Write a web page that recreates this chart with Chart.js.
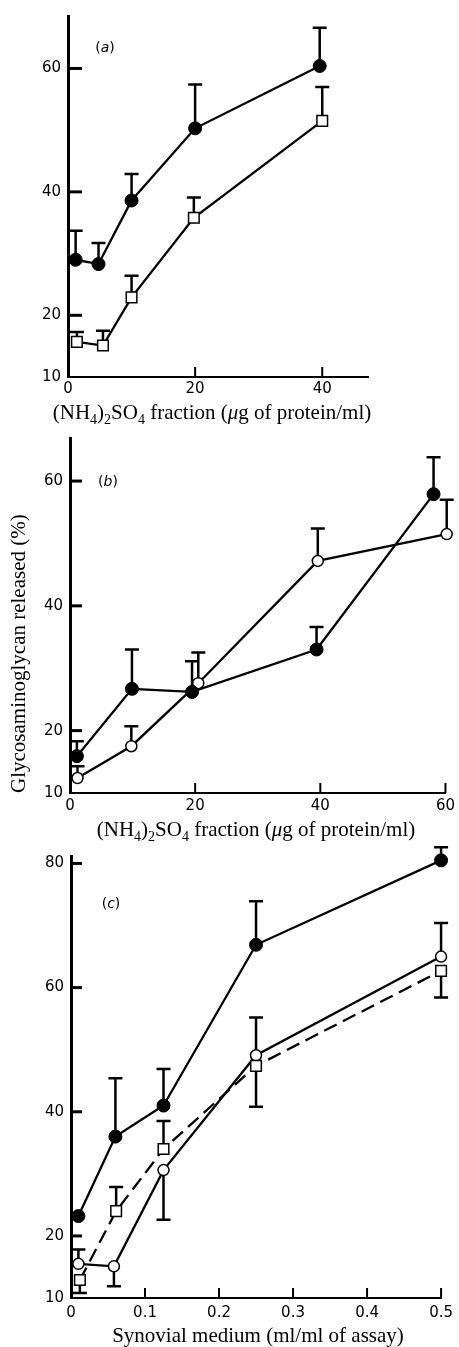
<!DOCTYPE html>
<html lang="en">
<head>
    <meta charset="UTF-8">
    <title>Glycosaminoglycan release</title>
    <script src="https://cdn.jsdelivr.net/npm/chart.js"></script>
    <style>
        body { margin: 0; background: #fff; }
        #page { position: relative; width: 459px; height: 1347px; overflow: hidden; }
        .panel { position: absolute; left: 0; width: 459px; }
    </style>
</head>

<body>
    <div id="page">
        <div class="panel" style="top:0;height:440px"><canvas id="chartA"></canvas></div>
        <div class="panel" style="top:420px;height:440px"><canvas id="chartB"></canvas></div>
        <div class="panel" style="top:840px;height:507px"><canvas id="chartC"></canvas></div>
    </div>

    <script>
        // (a) ammonium sulphate fraction
        const aTicksX = [0, 20, 40];
        const aTicksY = [10, 20, 40, 60];
        const aFilledX = [1.2, 4.8, 10, 20, 39.6];
        const aFilledY = [29, 28.3, 38.6, 50.3, 60.4];
        const aFilledErr = [33.7, 31.7, 42.9, 57.4, 66.6];
        const aSquareX = [1.4, 5.5, 10, 19.8, 40];
        const aSquareY = [15.7, 15.1, 22.9, 35.8, 51.5];
        const aSquareErr = [17.3, 17.5, 26.4, 39.1, 57];

        // (b) ammonium sulphate fraction
        const bTicksX = [0, 20, 40, 60];
        const bTicksY = [10, 20, 40, 60];
        const bFilledX = [1.1, 9.9, 19.5, 39.4, 58.1];
        const bFilledY = [15.9, 26.7, 26.2, 33, 57.9];
        const bFilledErr = [18.3, 33, 31.1, 36.6, 63.8];
        const bOpenX = [1.2, 9.8, 20.5, 39.6, 60.2];
        const bOpenY = [12.4, 17.5, 27.6, 47.2, 51.5];
        const bOpenErr = [14.3, 20.7, 32.5, 52.4, 57];

        // (c) synovial medium
        const cTicksX = [0, 0.1, 0.2, 0.3, 0.4, 0.5];
        const cTicksY = [10, 20, 40, 60, 80];
        const cFilledX = [0.01, 0.06, 0.125, 0.25, 0.5];
        const cFilledY = [23.2, 36, 41, 66.9, 80.5];
        const cFilledErr = [null, 45.4, 46.9, 73.9, 82.6];
        const cOpenX = [0.01, 0.058, 0.125, 0.25, 0.5];
        const cOpenY = [15.5, 15.1, 30.6, 49.1, 65];
        const cOpenErr = [17.8, 11.9, 22.6, 55.2, 70.4];
        const cSquareX = [0.012, 0.061, 0.125, 0.25, 0.5];
        const cSquareY = [12.9, 24, 34, 47.4, 62.7];
        const cSquareErr = [10.8, 27.9, 38.5, 40.8, 58.4];

        const SERIF = 'Liberation Serif';
        Chart.defaults.font.family = 'DejaVu Sans';
        Chart.defaults.font.size = 15;
        Chart.defaults.color = '#000';

        const pts = (xs, ys) => xs.map((x, i) => ({x: x, y: ys[i]}));

        // marker styles
        function filled(xs, ys, err) {
            return { data: pts(xs, ys), errEnd: err, pointStyle: 'circle', pointRadius: 6.5,
                pointBackgroundColor: '#000', pointBorderColor: '#000', pointBorderWidth: 1 };
        }
        function open(xs, ys, err) {
            return { data: pts(xs, ys), errEnd: err, pointStyle: 'circle', pointRadius: 5.5,
                pointBackgroundColor: '#fff', pointBorderColor: '#000', pointBorderWidth: 1.5 };
        }
        function square(xs, ys, err) {
            return { data: pts(xs, ys), errEnd: err, pointStyle: 'rect', pointRadius: 7.5,
                pointBackgroundColor: '#fff', pointBorderColor: '#000', pointBorderWidth: 1.5 };
        }

        // vertical error bars with a cap, drawn under the markers
        const errorBars = {
            id: 'errorBars',
            beforeDatasetsDraw(chart) {
                const ctx = chart.ctx, y = chart.scales.y;
                ctx.save();
                ctx.strokeStyle = '#000';
                ctx.lineWidth = 2.5;
                chart.data.datasets.forEach((ds, i) => {
                    if (!ds.errEnd) return;
                    chart.getDatasetMeta(i).data.forEach((pt, j) => {
                        const e = ds.errEnd[j];
                        if (e == null) return;
                        const py = y.getPixelForValue(e);
                        ctx.beginPath();
                        ctx.moveTo(pt.x, pt.y);
                        ctx.lineTo(pt.x, py);
                        ctx.moveTo(pt.x - 7, py);
                        ctx.lineTo(pt.x + 7, py);
                        ctx.stroke();
                    });
                });
                ctx.restore();
            }
        };

        // tick marks pointing into the plot
        const innerTicks = {
            id: 'innerTicks',
            afterDraw(chart, args, opts) {
                const ctx = chart.ctx, area = chart.chartArea;
                const x = chart.scales.x, y = chart.scales.y;
                ctx.save();
                ctx.strokeStyle = '#000';
                ctx.lineWidth = 3;
                y.ticks.forEach(t => {
                    if (t.value === y.min) return;
                    const py = y.getPixelForValue(t.value);
                    ctx.beginPath();
                    ctx.moveTo(area.left, py);
                    ctx.lineTo(area.left + opts.yLen, py);
                    ctx.stroke();
                });
                ctx.lineWidth = 2;
                x.ticks.forEach(t => {
                    if (t.value === x.min) return;
                    const px = x.getPixelForValue(t.value);
                    ctx.beginPath();
                    ctx.moveTo(px, area.bottom);
                    ctx.lineTo(px, area.bottom - 10);
                    ctx.stroke();
                });
                ctx.restore();
            }
        };

        // x-axis caption with subscripts / italics, and the panel letter
        const captions = {
            id: 'captions',
            afterDraw(chart, args, opts) {
                const ctx = chart.ctx;
                ctx.save();
                ctx.fillStyle = '#000';
                ctx.textBaseline = 'alphabetic';
                const fontOf = s => s === 's' ? '14px ' + SERIF : (s === 'i' ? 'italic 21px ' : '21px ') + SERIF;
                let w = 0;
                opts.parts.forEach(p => { ctx.font = fontOf(p[1]); w += ctx.measureText(p[0]).width; });
                let cx = opts.x - w / 2;
                opts.parts.forEach(p => {
                    ctx.font = fontOf(p[1]);
                    ctx.fillText(p[0], cx, opts.y + (p[1] === 's' ? 5 : 0));
                    cx += ctx.measureText(p[0]).width;
                });
                // panel letter, e.g. (a)
                const lab = [['(', '14px DejaVu Sans'], [opts.letter, 'italic 14px DejaVu Sans'], [')', '14px DejaVu Sans']];
                ctx.textBaseline = 'middle';
                let lw = 0;
                lab.forEach(p => { ctx.font = p[1]; lw += ctx.measureText(p[0]).width; });
                let lx = opts.lx - lw / 2;
                lab.forEach(p => {
                    ctx.font = p[1];
                    ctx.fillText(p[0], lx, opts.ly);
                    lx += ctx.measureText(p[0]).width;
                });
                ctx.restore();
            }
        };

        const nh4Caption = [['(NH', 'n'], ['4', 's'], [')', 'n'], ['2', 's'], ['SO', 'n'], ['4', 's'],
            [' fraction (', 'n'], ['\u03bc', 'i'], ['g of protein/ml)', 'n']];

        function makePanel(id, p) {
            const datasets = p.datasets.map(d => Object.assign({
                borderColor: '#000', borderWidth: 2.3, tension: 0, clip: false, fill: false
            }, d));
            return new Chart(document.getElementById(id), {
                type: 'line',
                data: { datasets: datasets },
                plugins: [errorBars, innerTicks, captions],
                options: {
                    responsive: true,
                    maintainAspectRatio: false,
                    animation: false,
                    layout: { autoPadding: false, padding: { left: 0, top: p.top, right: p.right, bottom: 0 } },
                    plugins: {
                        legend: { display: false },
                        tooltip: { enabled: false },
                        innerTicks: { yLen: p.yLen },
                        captions: p.caption
                    },
                    scales: {
                        x: {
                            type: 'linear', min: p.xMin, max: p.xMax,
                            grid: { display: false, drawTicks: false },
                            border: { display: true, color: '#000', width: 2 },
                            afterBuildTicks: s => { s.ticks = p.ticksX.map(v => ({value: v})); },
                            afterFit: s => { s.height = p.xHeight; },
                            ticks: { padding: p.xPad, maxRotation: 0, callback: v => String(v) }
                        },
                        y: {
                            type: 'linear', min: 10, max: p.yMax,
                            grid: { display: false, drawTicks: false },
                            border: { display: true, color: '#000', width: 3 },
                            afterBuildTicks: s => { s.ticks = p.ticksY.map(v => ({value: v})); },
                            afterFit: s => { s.width = p.yWidth; },
                            ticks: { padding: 7, callback: v => String(v) },
                            title: p.yTitle || { display: false }
                        }
                    }
                }
            });
        }

        makePanel('chartA', {
            top: 14, right: 91, yWidth: 68, xHeight: 63, xPad: 3, yLen: 14,
            xMin: 0, xMax: 47.2, yMax: 68.5, ticksX: aTicksX, ticksY: aTicksY,
            caption: { parts: nh4Caption, x: 212, y: 419, letter: 'a', lx: 105, ly: 48 },
            datasets: [filled(aFilledX, aFilledY, aFilledErr), square(aSquareX, aSquareY, aSquareErr)]
        });

        makePanel('chartB', {
            top: 18, right: 10, yWidth: 70, xHeight: 67, xPad: 4, yLen: 12,
            xMin: 0, xMax: 60, yMax: 66.9, ticksX: bTicksX, ticksY: bTicksY,
            caption: { parts: nh4Caption, x: 256, y: 416, letter: 'b', lx: 108, ly: 62 },
            yTitle: { display: true, text: 'Glycosaminoglycan released (%)', align: 'start',
                font: { family: SERIF, size: 21 }, color: '#000', padding: { top: 7, bottom: 0 } },
            datasets: [filled(bFilledX, bFilledY, bFilledErr), open(bOpenX, bOpenY, bOpenErr)]
        });

        makePanel('chartC', {
            top: 15, right: 10, yWidth: 71, xHeight: 49, xPad: 6, yLen: 11,
            xMin: 0, xMax: 0.5, yMax: 81.2, ticksX: cTicksX, ticksY: cTicksY,
            caption: { parts: [['Synovial medium (ml/ml of assay)', 'n']], x: 258, y: 502, letter: 'c', lx: 111, ly: 64 },
            datasets: [
                filled(cFilledX, cFilledY, cFilledErr),
                Object.assign(square(cSquareX, cSquareY, cSquareErr), { borderDash: [14, 7] }),
                open(cOpenX, cOpenY, cOpenErr)
            ]
        });
    </script>
</body>
</html>
